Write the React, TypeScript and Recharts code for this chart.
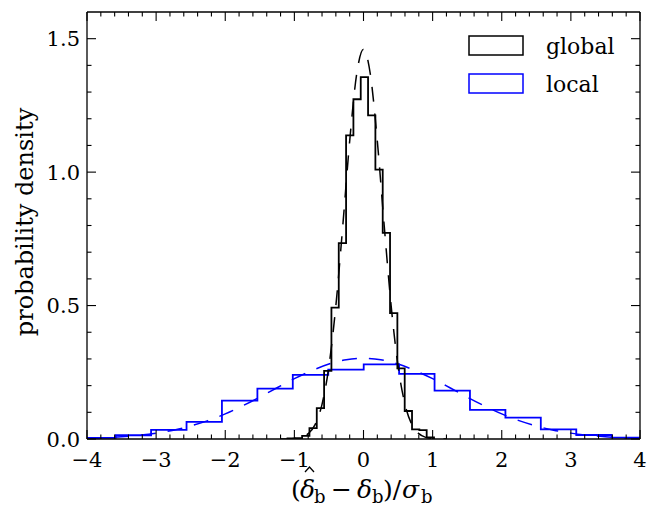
import React from 'react';
import { ComposedChart, Line, XAxis, YAxis, Legend } from 'recharts';

const FONT = '"DejaVu Serif", serif';

// ---- tick values / labels ----
const xMajorTicks = [-4, -3, -2, -1, 0, 1, 2, 3, 4];
const xTickLabels = ['\u22124', '\u22123', '\u22122', '\u22121', '0', '1', '2', '3', '4'];
const yMajorTicks = [0, 0.5, 1.0, 1.5];
const yTickLabels = ['0.0', '0.5', '1.0', '1.5'];
const xAllTicks = Array.from({ length: 41 }, (_, i) => Math.round((-4 + i * 0.2) * 10) / 10);
const yAllTicks = Array.from({ length: 16 }, (_, i) => i / 10);

// ---- histogram "global" (black) ----
const globalEdges = [-1.100, -0.994, -0.888, -0.782, -0.676, -0.570, -0.464, -0.358, -0.252, -0.146, -0.040, 0.066, 0.172, 0.278, 0.384, 0.490, 0.596, 0.702, 0.808, 0.914, 1.020];
const globalDensity = [0.002, 0.003, 0.012, 0.041, 0.116, 0.255, 0.492, 0.734, 1.138, 1.273, 1.356, 1.213, 1.009, 0.772, 0.472, 0.265, 0.105, 0.036, 0.033, 0.006];

// ---- histogram "local" (blue) ----
const localEdges = [-4.098, -3.585, -3.073, -2.560, -2.048, -1.535, -1.023, -0.510, 0.003, 0.515, 1.028, 1.540, 2.053, 2.565, 3.078, 3.590, 4.103];
const localDensity = [0.004, 0.014, 0.034, 0.064, 0.144, 0.189, 0.240, 0.260, 0.280, 0.244, 0.181, 0.109, 0.080, 0.036, 0.015, 0.005];

// ---- dashed fit curves ----
const globalFitX = [-1.2, -1.1, -1.0, -0.9, -0.8, -0.7, -0.6, -0.5, -0.4, -0.3, -0.2, -0.1, 0.0, 0.1, 0.2, 0.3, 0.4, 0.5, 0.6, 0.7, 0.8, 0.9, 1.0, 1.1, 1.2];
const globalFitY = [0.000, 0.0004, 0.002, 0.006, 0.020, 0.054, 0.130, 0.273, 0.499, 0.798, 1.116, 1.365, 1.460, 1.365, 1.116, 0.798, 0.499, 0.273, 0.130, 0.054, 0.020, 0.006, 0.002, 0.0004, 0.000];

const localFitX = [-4, -3.75, -3.5, -3.25, -3, -2.75, -2.5, -2.25, -2, -1.75, -1.5, -1.25, -1, -0.75, -0.5, -0.25, 0, 0.25, 0.5, 0.75, 1, 1.25, 1.5, 1.75, 2, 2.25, 2.5, 2.75, 3, 3.25, 3.5, 3.75, 4];
const localFitY = [0.003, 0.005, 0.0085, 0.014, 0.022, 0.033, 0.049, 0.069, 0.094, 0.124, 0.157, 0.192, 0.226, 0.256, 0.281, 0.297, 0.302, 0.297, 0.281, 0.256, 0.226, 0.192, 0.157, 0.124, 0.094, 0.069, 0.049, 0.033, 0.022, 0.014, 0.0085, 0.005, 0.003];

const stepData = (edges: number[], dens: number[]) => {
  const pts = [{ x: edges[0], y: 0 }];
  dens.forEach((d, i) => pts.push({ x: edges[i], y: d }));
  pts.push({ x: edges[edges.length - 1], y: 0 });
  return pts;
};
const zipData = (xs: number[], ys: number[]) => xs.map((x, i) => ({ x, y: ys[i] }));

const globalHist = stepData(globalEdges, globalDensity);
const localHist = stepData(localEdges, localDensity);
const globalFit = zipData(globalFitX, globalFitY);
const localFit = zipData(localFitX, localFitY);

const MAJOR = 9;
const MINOR = 4.5;
const TICK_W = 1.1;

const findIdx = (arr: number[], v: number) => arr.findIndex((t) => Math.abs(t - v) < 1e-6);

const BottomTick = (props: any) => {
  const { x, y, payload } = props;
  const idx = findIdx(xMajorTicks, payload.value);
  const major = idx >= 0;
  return (
    <g>
      <line x1={x} x2={x} y1={y} y2={y - (major ? MAJOR : MINOR)} stroke="#000" strokeWidth={TICK_W} />
      {major && (
        <text x={x} y={y + 28} textAnchor="middle" fontFamily={FONT} fontSize={21} fill="#000">
          {xTickLabels[idx]}
        </text>
      )}
    </g>
  );
};

const TopTick = (props: any) => {
  const { x, y, payload } = props;
  const major = findIdx(xMajorTicks, payload.value) >= 0;
  return <line x1={x} x2={x} y1={y} y2={y + (major ? MAJOR : MINOR)} stroke="#000" strokeWidth={TICK_W} />;
};

const LeftTick = (props: any) => {
  const { x, y, payload } = props;
  const idx = findIdx(yMajorTicks, payload.value);
  const major = idx >= 0;
  return (
    <g>
      <line x1={x} x2={x + (major ? MAJOR : MINOR)} y1={y} y2={y} stroke="#000" strokeWidth={TICK_W} />
      {major && (
        <text x={x - 7} y={y} dy="0.36em" textAnchor="end" fontFamily={FONT} fontSize={21} fill="#000">
          {yTickLabels[idx]}
        </text>
      )}
    </g>
  );
};

const RightTick = (props: any) => {
  const { x, y, payload } = props;
  const major = findIdx(yMajorTicks, payload.value) >= 0;
  return <line x1={x} x2={x - (major ? MAJOR : MINOR)} y1={y} y2={y} stroke="#000" strokeWidth={TICK_W} />;
};

const XLabel = () => (
  <g>
    <text fontFamily={FONT} fill="#000" fontSize={25} x={291} y={498}>
      <tspan x={291} y={498}>(</tspan>
      <tspan x={300} y={498} fontStyle="italic">{'\u03B4'}</tspan>
      <tspan x={314} y={503} fontSize={18}>b</tspan>
      <tspan x={331} y={498}>{'\u2212'}</tspan>
      <tspan x={357} y={498} fontStyle="italic">{'\u03B4'}</tspan>
      <tspan x={372} y={503} fontSize={18}>b</tspan>
      <tspan x={383} y={498}>)/</tspan>
      <tspan x={402} y={498} fontStyle="italic">{'\u03C3'}</tspan>
      <tspan x={421} y={503} fontSize={18}>b</tspan>
    </text>
    <path d="M305 472 L309.5 467 L314 472" fill="none" stroke="#000" strokeWidth={1.3} />
  </g>
);

const YLabel = () => (
  <text x={33} y={222} transform="rotate(-90, 33, 222)" textAnchor="middle" fontFamily={FONT} fontSize={24} fill="#000">
    probability density
  </text>
);

const LegendContent = () => (
  <svg width={180} height={80} style={{ display: 'block' }}>
    <rect x={4} y={6} width={54} height={19} fill="none" stroke="#000" strokeWidth={1.5} />
    <text x={81} y={24} fontFamily={FONT} fontSize={22} fill="#000">global</text>
    <rect x={4} y={44} width={54} height={19} fill="none" stroke="#0000ff" strokeWidth={1.5} />
    <text x={81} y={62} fontFamily={FONT} fontSize={22} fill="#000">local</text>
  </svg>
);

export default function App() {
  return (
    <div style={{ position: 'absolute', left: 0, top: 0, width: 659, height: 510, background: '#fff' }}>
      <ComposedChart width={659} height={510} margin={{ top: 11, right: 18, bottom: 0, left: 0 }}>
        <XAxis
          xAxisId="bottom"
          dataKey="x"
          type="number"
          domain={[-4, 4]}
          allowDataOverflow
          ticks={xAllTicks}
          interval={0}
          tick={<BottomTick />}
          tickLine={false}
          tickSize={0}
          tickMargin={0}
          height={71}
          axisLine={{ stroke: '#000', strokeWidth: 1.3 }}
          label={<XLabel />}
        />
        <XAxis
          xAxisId="top"
          orientation="top"
          dataKey="x"
          type="number"
          domain={[-4, 4]}
          allowDataOverflow
          ticks={xAllTicks}
          interval={0}
          tick={<TopTick />}
          tickLine={false}
          tickSize={0}
          tickMargin={0}
          height={1}
          axisLine={{ stroke: '#000', strokeWidth: 1.3 }}
        />
        <YAxis
          yAxisId="left"
          type="number"
          domain={[0, 1.6]}
          allowDataOverflow
          ticks={yAllTicks}
          interval={0}
          tick={<LeftTick />}
          tickLine={false}
          tickSize={0}
          tickMargin={0}
          width={87}
          axisLine={{ stroke: '#000', strokeWidth: 1.3 }}
          label={<YLabel />}
        />
        <YAxis
          yAxisId="right"
          orientation="right"
          type="number"
          domain={[0, 1.6]}
          allowDataOverflow
          ticks={yAllTicks}
          interval={0}
          tick={<RightTick />}
          tickLine={false}
          tickSize={0}
          tickMargin={0}
          width={1}
          axisLine={{ stroke: '#000', strokeWidth: 1.3 }}
        />
        <Legend
          layout="horizontal"
          verticalAlign="middle"
          align="center"
          content={<LegendContent />}
          wrapperStyle={{ position: 'absolute', left: 465, top: 30, width: 180, height: 80 }}
        />
        <Line
          xAxisId="top"
          yAxisId="right"
          data={globalHist}
          dataKey="y"
          stroke="none"
          dot={false}
          legendType="none"
          isAnimationActive={false}
        />
        <Line
          xAxisId="bottom"
          yAxisId="left"
          data={localFit}
          dataKey="y"
          type="monotone"
          stroke="#0000ff"
          strokeWidth={1.5}
          strokeDasharray="15 12"
          dot={false}
          isAnimationActive={false}
        />
        <Line
          xAxisId="bottom"
          yAxisId="left"
          data={localHist}
          dataKey="y"
          type="stepAfter"
          stroke="#0000ff"
          strokeWidth={1.8}
          dot={false}
          isAnimationActive={false}
        />
        <Line
          xAxisId="bottom"
          yAxisId="left"
          data={globalFit}
          dataKey="y"
          type="monotone"
          stroke="#000"
          strokeWidth={1.5}
          strokeDasharray="15 12"
          dot={false}
          isAnimationActive={false}
        />
        <Line
          xAxisId="bottom"
          yAxisId="left"
          data={globalHist}
          dataKey="y"
          type="stepAfter"
          stroke="#000"
          strokeWidth={1.8}
          dot={false}
          isAnimationActive={false}
        />
      </ComposedChart>
    </div>
  );
}
